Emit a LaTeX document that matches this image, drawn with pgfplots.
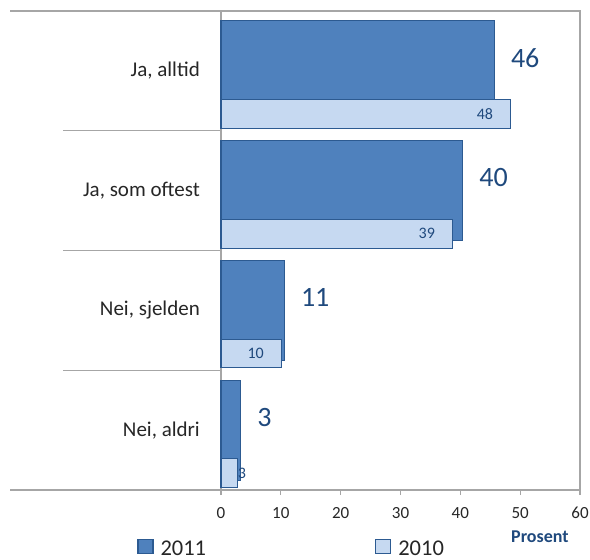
\documentclass[border=0pt]{standalone}
\usepackage{fontspec}
\setmainfont{Carlito}
\usepackage{pgfplots}
\pgfplotsset{compat=1.18}
\definecolor{cA}{HTML}{4F81BD}
\definecolor{cB}{HTML}{C6D9F1}
\definecolor{cBorder}{HTML}{2C5A91}
\definecolor{cLabel}{HTML}{1F497D}
\definecolor{cFrame}{HTML}{A6A6A6}
\definecolor{cText}{HTML}{262626}
\begin{document}
\begin{tikzpicture}
\begin{axis}[
  scale only axis, width=359bp, height=479bp,
  at={(221bp,70bp)}, anchor=south west,
  clip=false,
  xmin=0, xmax=60, ymin=-0.5, ymax=3.5, y dir=reverse,
  xtick={0,10,...,60}, xtick pos=bottom, tick align=outside, major tick length=5bp,
  ytick={0,1,2,3},
  yticklabels={{Ja, alltid},{Ja, som oftest},{Nei, sjelden},{Nei, aldri}},
  ytick style={draw=none},
  xtick style={draw=cFrame, line width=1.2bp},
  axis line style={draw=cFrame, line width=1.2bp},
  /pgf/number format/assume math mode=true,
  xticklabel style={font=\fontsize{17bp}{17bp}\selectfont, text=cText, inner sep=0pt, anchor=north, yshift=-12bp},
  yticklabel style={font=\fontsize{21bp}{21bp}\selectfont, text=cText, inner sep=0pt, anchor=east},
  yticklabel shift=16bp,
  legend columns=2,
  legend image code/.code={\path (0bp,16.5bp); \draw[#1, line width=1.2bp] (0bp,-4.5bp) rectangle (15bp,9.5bp);},
  legend style={at={(axis cs:-14.02,3.848)}, anchor=north west, draw=none, fill=none,
    font=\fontsize{22.5bp}{22.5bp}\selectfont, text=cText, inner sep=0pt,
    /tikz/every odd column/.style={column sep=5bp},
    /tikz/every even column/.style={column sep=167bp}},
]
\addplot[xbar, bar width=0.835, bar shift=0, fill=cA, draw=cBorder, line width=1.2bp,
  nodes near coords, point meta=explicit symbolic,
  every node near coord/.style={anchor=west, inner sep=0pt, xshift=16bp, yshift=13bp,
    font=\fontsize{28bp}{28bp}\selectfont, text=cLabel}]
  coordinates {(45.7,0) [46] (40.4,1) [40] (10.6,2) [11] (3.3,3) [3]};
\addlegendentry{2011}
\addplot[xbar, bar width=0.24, bar shift=0.36, fill=cB, draw=cBorder, line width=1.2bp,
  nodes near coords, point meta=explicit symbolic,
  every node near coord/.style={anchor=east, inner sep=0pt, xshift=-17bp, yshift=-43bp,
    font=\fontsize{16bp}{16bp}\selectfont, text=cLabel}]
  coordinates {(48.4,0) [48] (38.7,1) [39] (10.1,2) [10]};
\addlegendentry{2010}
\addplot[forget plot, xbar, bar width=0.24, bar shift=0.36, fill=cB, draw=cBorder, line width=1.2bp,
  nodes near coords, point meta=explicit symbolic,
  every node near coord/.style={anchor=west, inner sep=0pt, xshift=0bp, yshift=-43bp,
    font=\fontsize{16bp}{16bp}\selectfont, text=cLabel}]
  coordinates {(2.7,3) [3]};
\draw[cFrame, line width=1.2bp] (axis cs:0,-0.5) -- ([xshift=-211bp]axis cs:0,-0.5);
\draw[cFrame, line width=1.2bp] (axis cs:0,0.5) -- ([xshift=-158bp]axis cs:0,0.5);
\draw[cFrame, line width=1.2bp] (axis cs:0,1.5) -- ([xshift=-158bp]axis cs:0,1.5);
\draw[cFrame, line width=1.2bp] (axis cs:0,2.5) -- ([xshift=-158bp]axis cs:0,2.5);
\draw[cFrame, line width=1.2bp] (axis cs:0,3.5) -- ([xshift=-211bp]axis cs:0,3.5);
\node[font=\bfseries\fontsize{18bp}{18bp}\selectfont, text=cLabel, inner sep=0pt] at (axis cs:53.3,3.89) {Prosent};
\end{axis}
\pgfresetboundingbox
\path[use as bounding box] (0,0) rectangle (590bp,560bp);
\end{tikzpicture}
\end{document}
